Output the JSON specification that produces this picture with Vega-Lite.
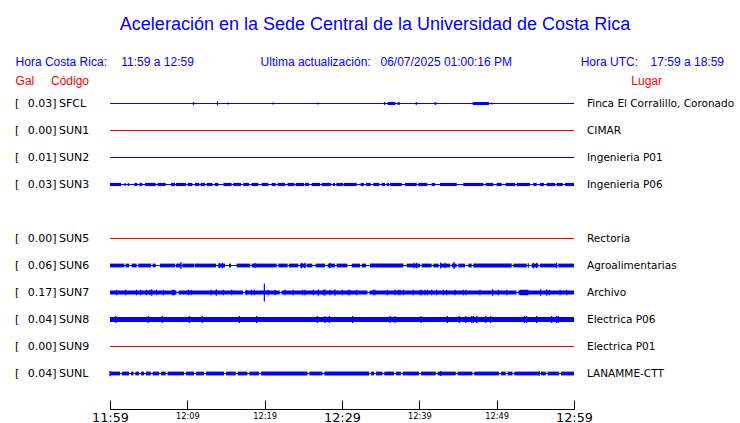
{
  "$schema": "https://vega.github.io/schema/vega-lite/v6.json",
  "width": 464,
  "height": 319,
  "autosize": {"type": "none"},
  "padding": {"left": 110, "top": 90, "right": 166, "bottom": 14},
  "background": "white",
  "config": {"view": {"stroke": null}},
  "data": {"values": [{}]},
  "datasets": {
    "estaciones": [
      {"codigo": "SFCL", "fila": 0, "gal": 0.03, "lugar": "Finca El Corralillo, Coronado", "estado": "activa"},
      {"codigo": "SUN1", "fila": 1, "gal": 0.00, "lugar": "CIMAR", "estado": "sin señal"},
      {"codigo": "SUN2", "fila": 2, "gal": 0.01, "lugar": "Ingenieria P01", "estado": "activa"},
      {"codigo": "SUN3", "fila": 3, "gal": 0.03, "lugar": "Ingenieria P06", "estado": "activa"},
      {"codigo": "SUN5", "fila": 5, "gal": 0.00, "lugar": "Rectoria", "estado": "sin señal"},
      {"codigo": "SUN6", "fila": 6, "gal": 0.06, "lugar": "Agroalimentarias", "estado": "activa"},
      {"codigo": "SUN7", "fila": 7, "gal": 0.17, "lugar": "Archivo", "estado": "activa"},
      {"codigo": "SUN8", "fila": 8, "gal": 0.04, "lugar": "Electrica P06", "estado": "activa"},
      {"codigo": "SUN9", "fila": 9, "gal": 0.00, "lugar": "Electrica P01", "estado": "sin señal"},
      {"codigo": "SUNL", "fila": 10, "gal": 0.04, "lugar": "LANAMME-CTT", "estado": "activa"}
    ],
    "tramos": [
      {"c": "SFCL", "t0": 0, "t1": 60, "a": 0},
      {"c": "SUN1", "t0": 0, "t1": 60, "a": 0},
      {"c": "SUN2", "t0": 0, "t1": 60, "a": 0},
      {"c": "SUN3", "t0": 0, "t1": 60, "a": 0},
      {"c": "SUN5", "t0": 0, "t1": 60, "a": 0},
      {"c": "SUN6", "t0": 0, "t1": 60, "a": 0},
      {"c": "SUN7", "t0": 0, "t1": 60, "a": 0},
      {"c": "SUN8", "t0": 0, "t1": 60, "a": 0.04},
      {"c": "SUN9", "t0": 0, "t1": 60, "a": 0},
      {"c": "SUNL", "t0": 0, "t1": 60, "a": 0},
      {"c": "SFCL", "t0": 35.9, "t1": 36.9, "a": 0.02},
      {"c": "SFCL", "t0": 37.2, "t1": 37.45, "a": 0.02},
      {"c": "SFCL", "t0": 41.95, "t1": 42.2, "a": 0.015},
      {"c": "SFCL", "t0": 46.9, "t1": 49.0, "a": 0.02},
      {"c": "SUN3", "t0": 0, "t1": 1.42, "a": 0.022},
      {"c": "SUN3", "t0": 3.15, "t1": 3.53, "a": 0.022},
      {"c": "SUN3", "t0": 3.79, "t1": 4.18, "a": 0.022},
      {"c": "SUN3", "t0": 4.53, "t1": 5.91, "a": 0.022},
      {"c": "SUN3", "t0": 6.16, "t1": 7.2, "a": 0.022},
      {"c": "SUN3", "t0": 7.89, "t1": 8.41, "a": 0.022},
      {"c": "SUN3", "t0": 8.53, "t1": 9.83, "a": 0.022},
      {"c": "SUN3", "t0": 10.04, "t1": 10.65, "a": 0.022},
      {"c": "SUN3", "t0": 10.99, "t1": 11.55, "a": 0.022},
      {"c": "SUN3", "t0": 11.72, "t1": 12.28, "a": 0.022},
      {"c": "SUN3", "t0": 12.5, "t1": 13.23, "a": 0.022},
      {"c": "SUN3", "t0": 13.58, "t1": 14.01, "a": 0.022},
      {"c": "SUN3", "t0": 14.66, "t1": 15.73, "a": 0.022},
      {"c": "SUN3", "t0": 15.95, "t1": 16.94, "a": 0.022},
      {"c": "SUN3", "t0": 17.24, "t1": 17.97, "a": 0.022},
      {"c": "SUN3", "t0": 18.32, "t1": 19.18, "a": 0.022},
      {"c": "SUN3", "t0": 19.61, "t1": 20.47, "a": 0.022},
      {"c": "SUN3", "t0": 20.91, "t1": 21.42, "a": 0.022},
      {"c": "SUN3", "t0": 21.68, "t1": 22.63, "a": 0.022},
      {"c": "SUN3", "t0": 22.97, "t1": 23.84, "a": 0.022},
      {"c": "SUN3", "t0": 24.01, "t1": 25.09, "a": 0.022},
      {"c": "SUN3", "t0": 25.22, "t1": 25.73, "a": 0.022},
      {"c": "SUN3", "t0": 26.08, "t1": 27.16, "a": 0.022},
      {"c": "SUN3", "t0": 27.37, "t1": 28.58, "a": 0.022},
      {"c": "SUN3", "t0": 28.84, "t1": 29.09, "a": 0.022},
      {"c": "SUN3", "t0": 29.27, "t1": 30.17, "a": 0.022},
      {"c": "SUN3", "t0": 30.26, "t1": 31.9, "a": 0.022},
      {"c": "SUN3", "t0": 32.41, "t1": 32.84, "a": 0.022},
      {"c": "SUN3", "t0": 33.1, "t1": 33.71, "a": 0.022},
      {"c": "SUN3", "t0": 34.05, "t1": 34.83, "a": 0.022},
      {"c": "SUN3", "t0": 35.13, "t1": 35.56, "a": 0.022},
      {"c": "SUN3", "t0": 35.78, "t1": 36.08, "a": 0.022},
      {"c": "SUN3", "t0": 36.21, "t1": 37.72, "a": 0.022},
      {"c": "SUN3", "t0": 38.15, "t1": 39.66, "a": 0.022},
      {"c": "SUN3", "t0": 39.87, "t1": 41.03, "a": 0.022},
      {"c": "SUN3", "t0": 41.59, "t1": 42.03, "a": 0.022},
      {"c": "SUN3", "t0": 42.67, "t1": 44.83, "a": 0.022},
      {"c": "SUN3", "t0": 45.69, "t1": 48.28, "a": 0.022},
      {"c": "SUN3", "t0": 48.58, "t1": 49.57, "a": 0.022},
      {"c": "SUN3", "t0": 50.0, "t1": 50.65, "a": 0.022},
      {"c": "SUN3", "t0": 51.16, "t1": 52.37, "a": 0.022},
      {"c": "SUN3", "t0": 52.59, "t1": 54.31, "a": 0.022},
      {"c": "SUN3", "t0": 54.74, "t1": 55.17, "a": 0.022},
      {"c": "SUN3", "t0": 55.6, "t1": 56.12, "a": 0.022},
      {"c": "SUN3", "t0": 56.47, "t1": 57.54, "a": 0.022},
      {"c": "SUN3", "t0": 57.76, "t1": 58.53, "a": 0.022},
      {"c": "SUN3", "t0": 58.84, "t1": 60, "a": 0.022},
      {"c": "SUN6", "t0": 0, "t1": 1.85, "a": 0.028},
      {"c": "SUN6", "t0": 2.03, "t1": 2.46, "a": 0.028},
      {"c": "SUN6", "t0": 2.8, "t1": 3.45, "a": 0.028},
      {"c": "SUN6", "t0": 3.66, "t1": 5.3, "a": 0.028},
      {"c": "SUN6", "t0": 5.52, "t1": 5.91, "a": 0.028},
      {"c": "SUN6", "t0": 6.47, "t1": 8.41, "a": 0.028},
      {"c": "SUN6", "t0": 8.53, "t1": 9.18, "a": 0.028},
      {"c": "SUN6", "t0": 9.35, "t1": 10.91, "a": 0.028},
      {"c": "SUN6", "t0": 10.99, "t1": 13.71, "a": 0.028},
      {"c": "SUN6", "t0": 14.01, "t1": 14.87, "a": 0.028},
      {"c": "SUN6", "t0": 15.39, "t1": 15.65, "a": 0.028},
      {"c": "SUN6", "t0": 16.38, "t1": 18.1, "a": 0.028},
      {"c": "SUN6", "t0": 18.32, "t1": 21.55, "a": 0.028},
      {"c": "SUN6", "t0": 21.77, "t1": 22.97, "a": 0.028},
      {"c": "SUN6", "t0": 23.15, "t1": 24.35, "a": 0.028},
      {"c": "SUN6", "t0": 24.57, "t1": 25.3, "a": 0.028},
      {"c": "SUN6", "t0": 25.43, "t1": 26.16, "a": 0.028},
      {"c": "SUN6", "t0": 26.59, "t1": 27.8, "a": 0.028},
      {"c": "SUN6", "t0": 28.15, "t1": 29.09, "a": 0.028},
      {"c": "SUN6", "t0": 29.31, "t1": 30.69, "a": 0.028},
      {"c": "SUN6", "t0": 31.25, "t1": 32.33, "a": 0.028},
      {"c": "SUN6", "t0": 32.54, "t1": 33.1, "a": 0.028},
      {"c": "SUN6", "t0": 33.62, "t1": 37.93, "a": 0.028},
      {"c": "SUN6", "t0": 38.36, "t1": 40.09, "a": 0.028},
      {"c": "SUN6", "t0": 40.3, "t1": 41.59, "a": 0.028},
      {"c": "SUN6", "t0": 41.81, "t1": 42.5, "a": 0.028},
      {"c": "SUN6", "t0": 42.67, "t1": 43.97, "a": 0.028},
      {"c": "SUN6", "t0": 44.18, "t1": 44.83, "a": 0.028},
      {"c": "SUN6", "t0": 45.04, "t1": 45.91, "a": 0.028},
      {"c": "SUN6", "t0": 46.34, "t1": 46.77, "a": 0.028},
      {"c": "SUN6", "t0": 46.98, "t1": 51.94, "a": 0.028},
      {"c": "SUN6", "t0": 52.16, "t1": 53.88, "a": 0.028},
      {"c": "SUN6", "t0": 54.53, "t1": 55.39, "a": 0.028},
      {"c": "SUN6", "t0": 55.6, "t1": 57.76, "a": 0.028},
      {"c": "SUN6", "t0": 57.97, "t1": 60, "a": 0.028},
      {"c": "SUN7", "t0": 0, "t1": 8.6, "a": 0.03},
      {"c": "SUN7", "t0": 8.85, "t1": 17.2, "a": 0.03},
      {"c": "SUN7", "t0": 17.45, "t1": 21.95, "a": 0.03},
      {"c": "SUN7", "t0": 22.2, "t1": 33.3, "a": 0.03},
      {"c": "SUN7", "t0": 33.55, "t1": 52.55, "a": 0.03},
      {"c": "SUN7", "t0": 52.8, "t1": 60, "a": 0.03},
      {"c": "SUN7", "t0": 7.97, "t1": 8.41, "a": 0.045},
      {"c": "SUN7", "t0": 52.97, "t1": 54.09, "a": 0.045},
      {"c": "SUNL", "t0": 0, "t1": 1.3, "a": 0.028},
      {"c": "SUNL", "t0": 1.55, "t1": 2.47, "a": 0.028},
      {"c": "SUNL", "t0": 2.72, "t1": 3.03, "a": 0.028},
      {"c": "SUNL", "t0": 3.28, "t1": 3.76, "a": 0.028},
      {"c": "SUNL", "t0": 4.01, "t1": 4.41, "a": 0.028},
      {"c": "SUNL", "t0": 4.66, "t1": 5.27, "a": 0.028},
      {"c": "SUNL", "t0": 5.52, "t1": 6.35, "a": 0.028},
      {"c": "SUNL", "t0": 6.6, "t1": 7.21, "a": 0.028},
      {"c": "SUNL", "t0": 7.46, "t1": 9.58, "a": 0.028},
      {"c": "SUNL", "t0": 9.83, "t1": 10.87, "a": 0.028},
      {"c": "SUNL", "t0": 11.12, "t1": 12.16, "a": 0.028},
      {"c": "SUNL", "t0": 12.41, "t1": 14.75, "a": 0.028},
      {"c": "SUNL", "t0": 15.0, "t1": 16.26, "a": 0.028},
      {"c": "SUNL", "t0": 16.51, "t1": 17.77, "a": 0.028},
      {"c": "SUNL", "t0": 18.02, "t1": 19.28, "a": 0.028},
      {"c": "SUNL", "t0": 19.53, "t1": 25.53, "a": 0.028},
      {"c": "SUNL", "t0": 25.78, "t1": 27.47, "a": 0.028},
      {"c": "SUNL", "t0": 27.72, "t1": 33.5, "a": 0.028},
      {"c": "SUNL", "t0": 33.75, "t1": 34.15, "a": 0.028},
      {"c": "SUNL", "t0": 34.4, "t1": 35.22, "a": 0.028},
      {"c": "SUNL", "t0": 35.47, "t1": 36.73, "a": 0.028},
      {"c": "SUNL", "t0": 36.98, "t1": 37.6, "a": 0.028},
      {"c": "SUNL", "t0": 37.85, "t1": 39.97, "a": 0.028},
      {"c": "SUNL", "t0": 40.22, "t1": 42.12, "a": 0.028},
      {"c": "SUNL", "t0": 42.37, "t1": 44.71, "a": 0.028},
      {"c": "SUNL", "t0": 44.96, "t1": 46.86, "a": 0.028},
      {"c": "SUNL", "t0": 47.11, "t1": 50.31, "a": 0.028},
      {"c": "SUNL", "t0": 50.56, "t1": 51.17, "a": 0.028},
      {"c": "SUNL", "t0": 51.42, "t1": 52.04, "a": 0.028},
      {"c": "SUNL", "t0": 52.29, "t1": 55.48, "a": 0.028},
      {"c": "SUNL", "t0": 55.73, "t1": 56.35, "a": 0.028},
      {"c": "SUNL", "t0": 56.6, "t1": 58.07, "a": 0.028},
      {"c": "SUNL", "t0": 58.32, "t1": 60, "a": 0.028}
    ],
    "picos": [
      {"c": "SFCL", "t": 10.8, "a": 0.02},
      {"c": "SFCL", "t": 13.9, "a": 0.03},
      {"c": "SFCL", "t": 15.3, "a": 0.01},
      {"c": "SFCL", "t": 21.1, "a": 0.01},
      {"c": "SFCL", "t": 26.9, "a": 0.01},
      {"c": "SFCL", "t": 35.5, "a": 0.02},
      {"c": "SFCL", "t": 39.6, "a": 0.02},
      {"c": "SFCL", "t": 49.4, "a": 0.01},
      {"c": "SUN3", "t": 1.94, "a": 0.02},
      {"c": "SUN3", "t": 2.37, "a": 0.02},
      {"c": "SUN6", "t": 9.18, "a": 0.06},
      {"c": "SUN6", "t": 14.14, "a": 0.045},
      {"c": "SUN6", "t": 14.53, "a": 0.045},
      {"c": "SUN6", "t": 18.75, "a": 0.045},
      {"c": "SUN6", "t": 24.78, "a": 0.045},
      {"c": "SUN6", "t": 25.22, "a": 0.045},
      {"c": "SUN6", "t": 28.45, "a": 0.045},
      {"c": "SUN6", "t": 39.31, "a": 0.045},
      {"c": "SUN6", "t": 39.66, "a": 0.045},
      {"c": "SUN6", "t": 42.76, "a": 0.05},
      {"c": "SUN6", "t": 43.32, "a": 0.045},
      {"c": "SUN6", "t": 44.48, "a": 0.06},
      {"c": "SUN6", "t": 54.09, "a": 0.035},
      {"c": "SUN6", "t": 54.74, "a": 0.045},
      {"c": "SUN6", "t": 55.17, "a": 0.045},
      {"c": "SUN6", "t": 57.76, "a": 0.045},
      {"c": "SUN7", "t": 0.86, "a": 0.045},
      {"c": "SUN7", "t": 2.03, "a": 0.045},
      {"c": "SUN7", "t": 3.45, "a": 0.045},
      {"c": "SUN7", "t": 3.97, "a": 0.045},
      {"c": "SUN7", "t": 4.74, "a": 0.045},
      {"c": "SUN7", "t": 5.17, "a": 0.045},
      {"c": "SUN7", "t": 5.39, "a": 0.055},
      {"c": "SUN7", "t": 6.03, "a": 0.045},
      {"c": "SUN7", "t": 6.9, "a": 0.045},
      {"c": "SUN7", "t": 10.13, "a": 0.045},
      {"c": "SUN7", "t": 10.47, "a": 0.045},
      {"c": "SUN7", "t": 13.06, "a": 0.045},
      {"c": "SUN7", "t": 13.75, "a": 0.055},
      {"c": "SUN7", "t": 14.66, "a": 0.045},
      {"c": "SUN7", "t": 15.73, "a": 0.045},
      {"c": "SUN7", "t": 17.67, "a": 0.045},
      {"c": "SUN7", "t": 18.32, "a": 0.045},
      {"c": "SUN7", "t": 18.66, "a": 0.045},
      {"c": "SUN7", "t": 19.96, "a": 0.17},
      {"c": "SUN7", "t": 20.47, "a": 0.045},
      {"c": "SUN7", "t": 21.34, "a": 0.045},
      {"c": "SUN7", "t": 22.63, "a": 0.045},
      {"c": "SUN7", "t": 23.71, "a": 0.045},
      {"c": "SUN7", "t": 24.91, "a": 0.045},
      {"c": "SUN7", "t": 25.22, "a": 0.045},
      {"c": "SUN7", "t": 26.29, "a": 0.045},
      {"c": "SUN7", "t": 26.94, "a": 0.055},
      {"c": "SUN7", "t": 27.59, "a": 0.045},
      {"c": "SUN7", "t": 27.8, "a": 0.055},
      {"c": "SUN7", "t": 28.45, "a": 0.045},
      {"c": "SUN7", "t": 29.09, "a": 0.055},
      {"c": "SUN7", "t": 30.04, "a": 0.045},
      {"c": "SUN7", "t": 30.82, "a": 0.045},
      {"c": "SUN7", "t": 31.03, "a": 0.045},
      {"c": "SUN7", "t": 31.9, "a": 0.045},
      {"c": "SUN7", "t": 34.05, "a": 0.045},
      {"c": "SUN7", "t": 34.27, "a": 0.045},
      {"c": "SUN7", "t": 35.86, "a": 0.045},
      {"c": "SUN7", "t": 36.85, "a": 0.045},
      {"c": "SUN7", "t": 37.28, "a": 0.045},
      {"c": "SUN7", "t": 37.5, "a": 0.045},
      {"c": "SUN7", "t": 37.93, "a": 0.045},
      {"c": "SUN7", "t": 39.22, "a": 0.045},
      {"c": "SUN7", "t": 40.09, "a": 0.045},
      {"c": "SUN7", "t": 40.3, "a": 0.045},
      {"c": "SUN7", "t": 40.73, "a": 0.045},
      {"c": "SUN7", "t": 41.03, "a": 0.045},
      {"c": "SUN7", "t": 41.59, "a": 0.045},
      {"c": "SUN7", "t": 42.24, "a": 0.045},
      {"c": "SUN7", "t": 43.1, "a": 0.045},
      {"c": "SUN7", "t": 43.53, "a": 0.045},
      {"c": "SUN7", "t": 44.61, "a": 0.045},
      {"c": "SUN7", "t": 45.69, "a": 0.045},
      {"c": "SUN7", "t": 46.03, "a": 0.045},
      {"c": "SUN7", "t": 47.84, "a": 0.045},
      {"c": "SUN7", "t": 49.48, "a": 0.055},
      {"c": "SUN7", "t": 50.22, "a": 0.045},
      {"c": "SUN7", "t": 51.29, "a": 0.045},
      {"c": "SUN7", "t": 55.69, "a": 0.055},
      {"c": "SUN7", "t": 56.47, "a": 0.055},
      {"c": "SUN7", "t": 56.81, "a": 0.045},
      {"c": "SUN7", "t": 58.19, "a": 0.045},
      {"c": "SUN7", "t": 59.05, "a": 0.045},
      {"c": "SUN8", "t": 0.73, "a": 0.06},
      {"c": "SUN8", "t": 4.96, "a": 0.06},
      {"c": "SUN8", "t": 6.77, "a": 0.06},
      {"c": "SUN8", "t": 10.26, "a": 0.06},
      {"c": "SUN8", "t": 11.94, "a": 0.06},
      {"c": "SUN8", "t": 16.72, "a": 0.06},
      {"c": "SUN8", "t": 18.97, "a": 0.06},
      {"c": "SUN8", "t": 26.81, "a": 0.06},
      {"c": "SUN8", "t": 27.8, "a": 0.06},
      {"c": "SUN8", "t": 28.36, "a": 0.06},
      {"c": "SUN8", "t": 31.38, "a": 0.06},
      {"c": "SUN8", "t": 36.21, "a": 0.06},
      {"c": "SUN8", "t": 36.85, "a": 0.06},
      {"c": "SUN8", "t": 40.22, "a": 0.06},
      {"c": "SUN8", "t": 43.62, "a": 0.06},
      {"c": "SUN8", "t": 45.17, "a": 0.06},
      {"c": "SUN8", "t": 46.03, "a": 0.06},
      {"c": "SUN8", "t": 46.77, "a": 0.06},
      {"c": "SUN8", "t": 46.98, "a": 0.06},
      {"c": "SUN8", "t": 47.41, "a": 0.06},
      {"c": "SUN8", "t": 48.58, "a": 0.06},
      {"c": "SUN8", "t": 49.22, "a": 0.06},
      {"c": "SUN8", "t": 53.58, "a": 0.06},
      {"c": "SUN8", "t": 53.88, "a": 0.06},
      {"c": "SUN8", "t": 55.17, "a": 0.06},
      {"c": "SUN8", "t": 57.11, "a": 0.06},
      {"c": "SUN8", "t": 57.76, "a": 0.06},
      {"c": "SUN8", "t": 57.97, "a": 0.06},
      {"c": "SUNL", "t": 0, "a": 0.045},
      {"c": "SUNL", "t": 42.76, "a": 0.04},
      {"c": "SUNL", "t": 55.52, "a": 0.035}
    ]
  },
  "layer": [
    {
      "data": {"name": "tramos"},
      "transform": [{"lookup": "c", "from": {"data": {"name": "estaciones"}, "key": "codigo", "fields": ["fila", "estado"]}}],
      "mark": {"type": "rule"},
      "encoding": {
        "x": {
          "field": "t0", "type": "quantitative", "title": null,
          "scale": {"domain": [0, 60], "nice": false, "zero": false},
          "axis": {
            "values": [0, 5, 10, 15, 20, 25, 30, 35, 40, 45, 50, 55, 60],
            "labelExpr": "datum.value % 10 == 0 ? floor((719 + datum.value) / 60) + ':' + ((719 + datum.value) % 60 < 10 ? '0' : '') + ((719 + datum.value) % 60) : ''",
            "grid": false, "title": null,
            "domainColor": "black", "domainWidth": 1,
            "tickColor": "black", "tickWidth": 1, "tickSize": -9,
            "labelPadding": 11, "labelBaseline": "top",
            "labelFont": "DejaVu Sans",
            "labelFontSize": {"condition": {"test": "datum.value % 30 == 0", "value": 12.8}, "value": 8.3},
            "labelColor": "black", "labelFlush": false, "labelOverlap": false, "labelBound": false
          }
        },
        "x2": {"field": "t1"},
        "y": {"field": "fila", "type": "quantitative", "axis": null, "scale": {"domain": [-0.5, 11.3148], "nice": false, "zero": false, "reverse": true}},
        "color": {"field": "estado", "type": "nominal", "scale": {"domain": ["activa", "sin señal"], "range": ["#0000ff", "#ff0000"]}, "legend": null},
        "strokeWidth": {"field": "a", "type": "quantitative", "scale": {"type": "linear", "domain": [0, 0.2], "range": [1, 21]}, "legend": null}
      }
    },
    {
      "data": {"name": "picos"},
      "transform": [{"lookup": "c", "from": {"data": {"name": "estaciones"}, "key": "codigo", "fields": ["fila"]}}],
      "mark": {"type": "tick", "orient": "vertical", "thickness": 1.2, "opacity": 1, "color": "#0000ff"},
      "encoding": {
        "x": {"field": "t", "type": "quantitative", "title": null},
        "y": {"field": "fila", "type": "quantitative", "axis": null},
        "size": {"field": "a", "type": "quantitative", "scale": {"type": "linear", "domain": [0, 0.2], "range": [1, 21]}, "legend": null}
      }
    },
    {
      "data": {"name": "estaciones"},
      "mark": {"type": "text", "text": "[", "align": "left", "baseline": "middle", "font": "DejaVu Sans", "fontSize": 11, "color": "black"},
      "encoding": {
        "x": {"datum": -12.284, "type": "quantitative", "title": null},
        "y": {"field": "fila", "type": "quantitative", "axis": null}
      }
    },
    {
      "data": {"name": "estaciones"},
      "mark": {"type": "text", "align": "right", "baseline": "middle", "font": "DejaVu Sans", "fontSize": 11, "color": "black"},
      "encoding": {
        "x": {"datum": -7.47, "type": "quantitative", "title": null},
        "y": {"field": "fila", "type": "quantitative", "axis": null},
        "text": {"field": "gal", "type": "quantitative", "format": ".2f"}
      }
    },
    {
      "data": {"name": "estaciones"},
      "mark": {"type": "text", "text": "]", "align": "left", "baseline": "middle", "font": "DejaVu Sans", "fontSize": 11, "color": "black"},
      "encoding": {
        "x": {"datum": -7.47, "type": "quantitative", "title": null},
        "y": {"field": "fila", "type": "quantitative", "axis": null}
      }
    },
    {
      "data": {"name": "estaciones"},
      "mark": {"type": "text", "align": "left", "baseline": "middle", "font": "DejaVu Sans", "fontSize": 11, "color": "black"},
      "encoding": {
        "x": {"datum": -6.6, "type": "quantitative", "title": null},
        "y": {"field": "fila", "type": "quantitative", "axis": null},
        "text": {"field": "codigo", "type": "nominal"}
      }
    },
    {
      "data": {"name": "estaciones"},
      "mark": {"type": "text", "align": "left", "baseline": "middle", "font": "DejaVu Sans", "fontSize": 10.5, "color": "black"},
      "encoding": {
        "x": {"datum": 61.68, "type": "quantitative", "title": null},
        "y": {"field": "fila", "type": "quantitative", "axis": null},
        "text": {"field": "lugar", "type": "nominal"}
      }
    },
    {
      "mark": {"type": "text", "text": "Aceleración en la Sede Central de la Universidad de Costa Rica", "align": "center", "baseline": "alphabetic", "font": "Liberation Sans", "fontSize": 18, "color": "#0000ff"},
      "encoding": {"x": {"datum": 34.267, "type": "quantitative", "title": null}, "y": {"datum": -2.7407, "type": "quantitative", "axis": null}}
    },
    {
      "mark": {"type": "text", "text": "Hora Costa Rica:", "align": "left", "baseline": "alphabetic", "font": "Liberation Sans", "fontSize": 12, "color": "#0000ff"},
      "encoding": {"x": {"datum": -12.207, "type": "quantitative", "title": null}, "y": {"datum": -1.4, "type": "quantitative", "axis": null}}
    },
    {
      "mark": {"type": "text", "text": "11:59 a 12:59", "align": "left", "baseline": "alphabetic", "font": "Liberation Sans", "fontSize": 12, "color": "#0000ff"},
      "encoding": {"x": {"datum": 1.461, "type": "quantitative", "title": null}, "y": {"datum": -1.4, "type": "quantitative", "axis": null}}
    },
    {
      "mark": {"type": "text", "text": "Ultima actualización:", "align": "left", "baseline": "alphabetic", "font": "Liberation Sans", "fontSize": 12, "color": "#0000ff"},
      "encoding": {"x": {"datum": 19.474, "type": "quantitative", "title": null}, "y": {"datum": -1.4, "type": "quantitative", "axis": null}}
    },
    {
      "mark": {"type": "text", "text": "06/07/2025 01:00:16 PM", "align": "left", "baseline": "alphabetic", "font": "Liberation Sans", "fontSize": 12, "color": "#0000ff"},
      "encoding": {"x": {"datum": 34.978, "type": "quantitative", "title": null}, "y": {"datum": -1.4, "type": "quantitative", "axis": null}}
    },
    {
      "mark": {"type": "text", "text": "Hora UTC:", "align": "left", "baseline": "alphabetic", "font": "Liberation Sans", "fontSize": 12, "color": "#0000ff"},
      "encoding": {"x": {"datum": 60.866, "type": "quantitative", "title": null}, "y": {"datum": -1.4, "type": "quantitative", "axis": null}}
    },
    {
      "mark": {"type": "text", "text": "17:59 a 18:59", "align": "left", "baseline": "alphabetic", "font": "Liberation Sans", "fontSize": 12, "color": "#0000ff"},
      "encoding": {"x": {"datum": 69.905, "type": "quantitative", "title": null}, "y": {"datum": -1.4, "type": "quantitative", "axis": null}}
    },
    {
      "mark": {"type": "text", "text": "Gal", "align": "left", "baseline": "alphabetic", "font": "Liberation Sans", "fontSize": 12, "color": "#ff0000"},
      "encoding": {"x": {"datum": -12.207, "type": "quantitative", "title": null}, "y": {"datum": -0.685, "type": "quantitative", "axis": null}}
    },
    {
      "mark": {"type": "text", "text": "Código", "align": "left", "baseline": "alphabetic", "font": "Liberation Sans", "fontSize": 12, "color": "#ff0000"},
      "encoding": {"x": {"datum": -7.629, "type": "quantitative", "title": null}, "y": {"datum": -0.685, "type": "quantitative", "axis": null}}
    },
    {
      "mark": {"type": "text", "text": "Lugar", "align": "left", "baseline": "alphabetic", "font": "Liberation Sans", "fontSize": 12, "color": "#ff0000"},
      "encoding": {"x": {"datum": 67.41, "type": "quantitative", "title": null}, "y": {"datum": -0.685, "type": "quantitative", "axis": null}}
    }
  ]
}
